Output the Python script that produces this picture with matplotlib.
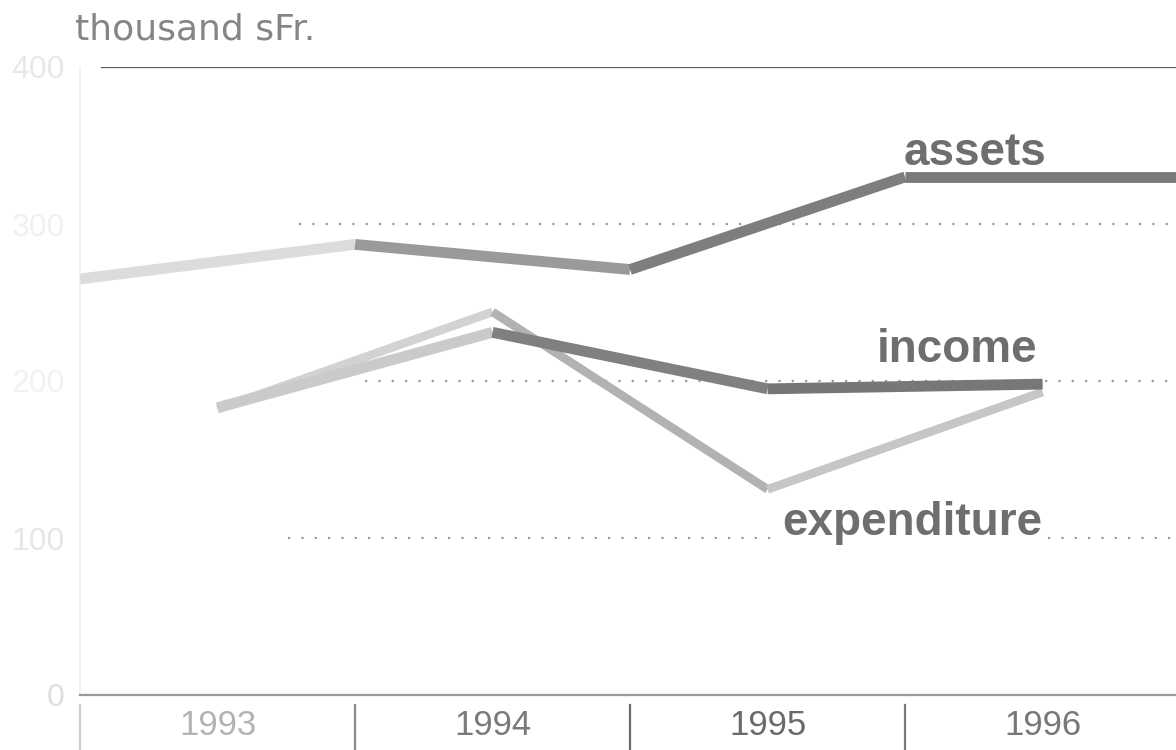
import matplotlib
matplotlib.use("Agg")
import matplotlib.pyplot as plt
import matplotlib.transforms as mtransforms

# ---- data ----
years = ["1993", "1994", "1995", "1996"]
year_pos = [0, 1, 2, 3]                      # category centres
assets_pos = [-0.5, 0.5, 1.5, 2.5, 3.5]      # year-end positions (end 1992 .. end 1996)
assets = [265, 287, 271, 330, 330]
income = [183, 231, 195, 198]
expenditure = [182, 244, 131, 193]
yticks = [0, 100, 200, 300, 400]
unit_label = "thousand sFr."

# ---- style ----
FONT = "Liberation Sans"
fig = plt.figure(figsize=(11.76, 7.5), dpi=100)
ax = fig.add_axes([80 / 1176, 55 / 750, 1 - 80 / 1176, (695 - 67) / 750])
ax.set_xlim(-0.5, 3.485)
ax.set_ylim(0, 400)

for s in ["top", "right"]:
    ax.spines[s].set_visible(False)
ax.spines["left"].set_color("#eeeeee")
ax.spines["left"].set_linewidth(1.2)
ax.spines["bottom"].set_color("#9a9a9a")
ax.spines["bottom"].set_linewidth(1.6)

# top rule at 400
ax.axhline(400, xmin=0.02, xmax=1, color="#5a5a5a", lw=1.6, zorder=1)

# dotted grid lines
for v, xm in [(300, 0.2), (200, 0.26), (100, 0.19)]:
    ax.axhline(v, xmin=xm, xmax=1, color="#9a9a9a", lw=1.6,
               linestyle=(0, (1, 5)), zorder=1)

# y tick labels (very faded in reference)
ax.set_yticks(yticks)
ax.set_yticklabels([str(t) for t in yticks], fontsize=23, family=FONT)
ytick_colors = ["#dedede", "#e6e6e6", "#f2f2f2", "#f0f0f0", "#e8e8e8"]
for lab, c in zip(ax.get_yticklabels(), ytick_colors):
    lab.set_color(c)
ax.tick_params(axis="y", length=0, pad=11)

# x: category labels + separators
ax.set_xticks(year_pos)
ax.set_xticklabels(years, fontsize=25, family=FONT)
year_colors = ["#b3b3b3", "#7a7a7a", "#6a6a6a", "#777777"]
for lab, c in zip(ax.get_xticklabels(), year_colors):
    lab.set_color(c)
ax.tick_params(axis="x", length=0, pad=10)

trans = mtransforms.blended_transform_factory(ax.transData, ax.transAxes)
sep_colors = ["#cfcfcf", "#8a8a8a", "#6a6a6a", "#7a7a7a"]
for b, c in zip([-0.5, 0.5, 1.5, 2.5], sep_colors):
    ax.plot([b, b], [-0.016, -0.09], transform=trans, color=c, lw=1.6,
            clip_on=False)


def seg_plot(xs, ys, colors, lw, z):
    for i in range(len(xs) - 1):
        ax.plot(xs[i:i + 2], ys[i:i + 2], color=colors[i], lw=lw,
                solid_capstyle="butt", solid_joinstyle="miter", zorder=z)


seg_plot(assets_pos, assets, ["#dcdcdc", "#9a9a9a", "#7e7e7e", "#7a7a7a"], 7.8, 4)
seg_plot(year_pos, expenditure, ["#d2d2d2", "#b2b2b2", "#c6c6c6"], 6.2, 3)
seg_plot(year_pos, income, ["#cacaca", "#808080", "#777777"], 7.8, 5)

# series labels
lab_kw = dict(fontsize=33, fontweight="bold", family=FONT, color="#6e6e6e",
              ha="center", va="baseline")
ax.text(2.754, 337.5, "assets", **lab_kw)
ax.text(2.689, 212, "income", **lab_kw)
ax.text(2.525, 102, "expenditure", zorder=6,
        bbox=dict(facecolor="white", edgecolor="none", pad=1), **lab_kw)

fig.text(75 / 1176, 1 - 30 / 750, unit_label, fontsize=26, family="DejaVu Sans",
         color="#858585", ha="left", va="center")

fig.savefig("out.png", dpi=100)
